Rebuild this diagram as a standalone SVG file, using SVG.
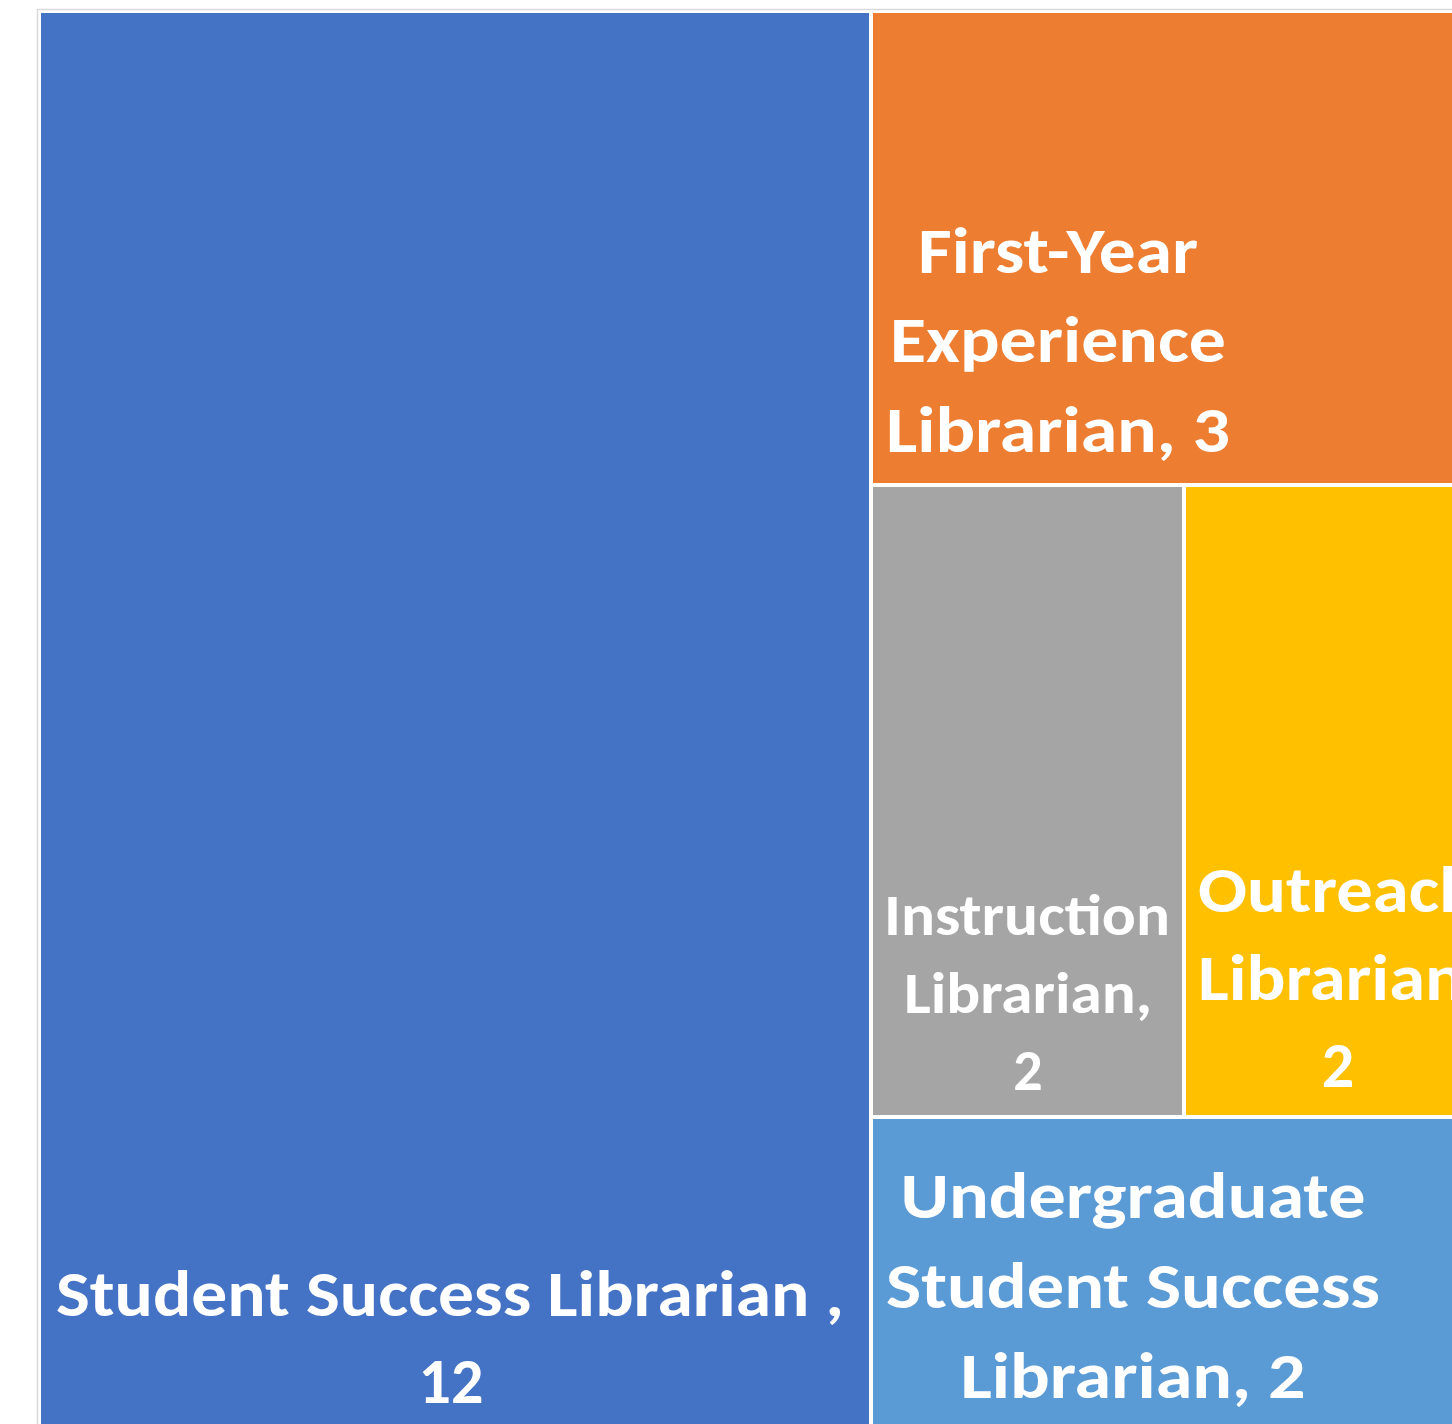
<svg xmlns="http://www.w3.org/2000/svg" width="1452" height="1424" viewBox="0 0 1452 1424">
<style>
  .lbl { font-family: Carlito, Lato, "Open Sans", sans-serif; font-weight: 700; fill: #FFFFFF; font-size: 64px; text-anchor: middle; }
  .sm { font-size: 58px; }
  .st { text-anchor: start; }
</style>
<rect x="0" y="0" width="1452" height="1424" fill="#FFFFFF"/>
<rect x="37.5" y="9.5" width="1500" height="1500" fill="#FFFFFF" stroke="#D9D9D9" stroke-width="1.5"/>
<g id="node-student-success">
  <rect x="41" y="13" width="828" height="1420" fill="#4472C4"/>
  <text class="lbl" x="450" y="1316" textLength="788" lengthAdjust="spacingAndGlyphs">Student Success Librarian ,</text>
  <text class="lbl" x="451" y="1403">12</text>
</g>
<g id="node-first-year">
  <rect x="873" y="13" width="600" height="470" fill="#ED7D31"/>
  <text class="lbl" x="1058" y="273" textLength="280" lengthAdjust="spacingAndGlyphs">First-Year</text>
  <text class="lbl" x="1058" y="362" textLength="336" lengthAdjust="spacingAndGlyphs">Experience</text>
  <text class="lbl" x="1058" y="452" textLength="344" lengthAdjust="spacingAndGlyphs">Librarian, 3</text>
</g>
<g id="node-instruction">
  <rect x="873" y="487" width="309" height="628" fill="#A5A5A5"/>
  <text class="lbl sm" x="1027" y="935" textLength="286" lengthAdjust="spacingAndGlyphs">Instruction</text>
  <text class="lbl sm" x="1028" y="1013" textLength="248" lengthAdjust="spacingAndGlyphs">Librarian,</text>
  <text class="lbl sm" x="1028" y="1090">2</text>
</g>
<g id="node-outreach">
  <rect x="1186" y="487" width="300" height="628" fill="#FFC000"/>
  <text class="lbl st" x="1198" y="912" textLength="280" lengthAdjust="spacingAndGlyphs">Outreach</text>
  <text class="lbl st" x="1198" y="1000" textLength="266" lengthAdjust="spacingAndGlyphs">Librarian</text>
  <text class="lbl" x="1338" y="1087">2</text>
</g>
<g id="node-undergraduate">
  <rect x="873" y="1119" width="600" height="320" fill="#5B9BD5"/>
  <text class="lbl" x="1133" y="1218" textLength="465" lengthAdjust="spacingAndGlyphs">Undergraduate</text>
  <text class="lbl" x="1133" y="1308" textLength="494" lengthAdjust="spacingAndGlyphs">Student Success</text>
  <text class="lbl" x="1133" y="1398" textLength="345" lengthAdjust="spacingAndGlyphs">Librarian, 2</text>
</g>
<g id="connectors"></g>
</svg>
